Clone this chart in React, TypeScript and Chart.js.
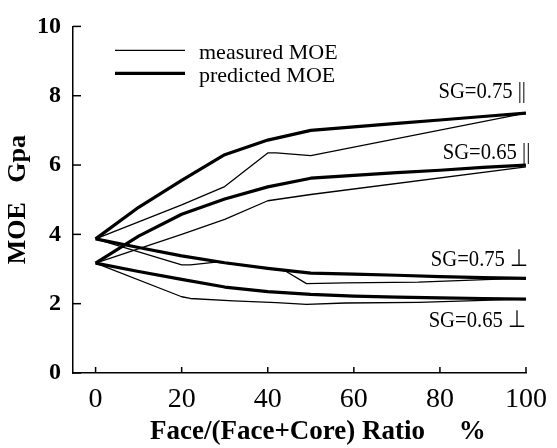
import React, { useEffect, useRef } from "react";
import { Chart, registerables } from "chart.js";

Chart.register(...registerables);

// Face ratio (%) grid used by the predicted curves
const ratioGrid = [0, 10, 20, 30, 40, 50, 60, 70, 80, 90, 100];

// Predicted MOE (GPa)
const predSG75Par = [3.87, 4.78, 5.56, 6.3, 6.72, 7.0, 7.1, 7.2, 7.3, 7.4, 7.5];
const predSG65Par = [3.17, 3.95, 4.58, 5.02, 5.37, 5.62, 5.7, 5.78, 5.85, 5.93, 6.0];
const predSG75Perp = [3.87, 3.62, 3.38, 3.18, 3.02, 2.88, 2.85, 2.82, 2.78, 2.75, 2.73];
const predSG65Perp = [3.17, 2.93, 2.7, 2.48, 2.35, 2.27, 2.22, 2.19, 2.17, 2.15, 2.13];

// Measured MOE (GPa)
const measSG75ParX = [0, 20, 30, 40, 42, 50, 100];
const measSG75ParY = [3.87, 4.85, 5.38, 6.35, 6.35, 6.27, 7.5];
const measSG65ParX = [0, 20, 30, 40, 50, 100];
const measSG65ParY = [3.17, 4.0, 4.43, 4.97, 5.15, 5.95];
const measSG75PerpX = [0, 20, 22, 28, 40, 44, 49, 58, 75, 92, 100];
const measSG75PerpY = [3.87, 3.12, 3.12, 3.2, 3.02, 2.95, 2.58, 2.6, 2.62, 2.7, 2.73];
const measSG65PerpX = [0, 20, 22, 32, 42, 49, 58, 75, 92, 100];
const measSG65PerpY = [3.17, 2.2, 2.15, 2.08, 2.03, 1.98, 2.02, 2.04, 2.1, 2.13];

// Axis ticks
const xTickValues = [0, 20, 40, 60, 80, 100];

// Curve captions, anchored at the right end of the plot (value units)
const curveCaptions = [
  { text: "SG=0.75 ||", x: 100, y: 8.12 },
  { text: "SG=0.65 ||", x: 101, y: 6.35 },
  { text: "SG=0.75 \u22A5", x: 100.5, y: 3.28 },
  { text: "SG=0.65 \u22A5", x: 100, y: 1.51 },
];

const legendItems = [
  { text: "measured MOE", width: 1.3 },
  { text: "predicted MOE", width: 3.2 },
];

const SERIF = "'Liberation Serif', 'Times New Roman', serif";

const pairs = (xs: number[], ys: number[]) => xs.map((x, i) => ({ x, y: ys[i] }));

const thin = (label: string, data: { x: number; y: number }[]) => ({
  label,
  data,
  borderColor: "#000",
  borderWidth: 1.3,
  pointRadius: 0,
  tension: 0,
  fill: false,
  borderJoinStyle: "round" as const,
});
const thick = (label: string, data: { x: number; y: number }[]) => ({
  ...thin(label, data),
  borderWidth: 3.2,
});

const decorations = {
  id: "decorations",
  afterDraw(chart: any) {
    const { ctx, chartArea, scales } = chart;
    const xs = scales.x;
    const ys = scales.y;
    ctx.save();
    ctx.strokeStyle = "#000";
    ctx.fillStyle = "#000";
    ctx.lineWidth = 1.5;

    // inward tick marks
    xs.ticks.forEach((t: any) => {
      const px = xs.getPixelForValue(t.value);
      ctx.beginPath();
      ctx.moveTo(px, chartArea.bottom);
      ctx.lineTo(px, chartArea.bottom - 6);
      ctx.stroke();
    });
    ys.ticks.forEach((t: any) => {
      const py = ys.getPixelForValue(t.value);
      ctx.beginPath();
      ctx.moveTo(chartArea.left, py);
      ctx.lineTo(chartArea.left + 8, py);
      ctx.stroke();
    });

    // legend
    const lx = chartArea.left + 42;
    const ly = chartArea.top + 24;
    legendItems.forEach((item, i) => {
      const y = ly + i * 23;
      ctx.lineWidth = item.width;
      ctx.beginPath();
      ctx.moveTo(lx, y);
      ctx.lineTo(lx + 70, y);
      ctx.stroke();
      ctx.font = `22px ${SERIF}`;
      ctx.textAlign = "left";
      ctx.textBaseline = "alphabetic";
      ctx.fillText(item.text, lx + 84, y + 9);
    });

    // curve captions (slightly condensed lettering)
    ctx.font = `24px ${SERIF}`;
    ctx.textAlign = "right";
    ctx.textBaseline = "middle";
    curveCaptions.forEach((c) => {
      const px = xs.getPixelForValue(c.x);
      const py = ys.getPixelForValue(c.y);
      ctx.save();
      ctx.translate(px, py);
      ctx.scale(0.86, 1);
      ctx.fillText(c.text, 0, 0);
      ctx.restore();
    });

    // axis titles
    ctx.font = `bold 27px ${SERIF}`;
    ctx.textAlign = "left";
    ctx.textBaseline = "middle";
    ctx.fillText("Face/(Face+Core) Ratio     %", 150, chart.height - 16);

    ctx.translate(18, (chartArea.top + chartArea.bottom) / 2);
    ctx.rotate(-Math.PI / 2);
    ctx.textAlign = "center";
    ctx.font = `bold 26px ${SERIF}`;
    ctx.fillText("MOE   Gpa", 0, 0);
    ctx.restore();
  },
};

export default function App() {
  const canvasRef = useRef<HTMLCanvasElement | null>(null);

  useEffect(() => {
    const canvas = canvasRef.current;
    if (!canvas) return;
    const chart = new Chart(canvas, {
      type: "line",
      data: {
        datasets: [
          thin("measured SG=0.75 ||", pairs(measSG75ParX, measSG75ParY)),
          thin("measured SG=0.65 ||", pairs(measSG65ParX, measSG65ParY)),
          thin("measured SG=0.75 \u22A5", pairs(measSG75PerpX, measSG75PerpY)),
          thin("measured SG=0.65 \u22A5", pairs(measSG65PerpX, measSG65PerpY)),
          thick("predicted SG=0.75 ||", pairs(ratioGrid, predSG75Par)),
          thick("predicted SG=0.65 ||", pairs(ratioGrid, predSG65Par)),
          thick("predicted SG=0.75 \u22A5", pairs(ratioGrid, predSG75Perp)),
          thick("predicted SG=0.65 \u22A5", pairs(ratioGrid, predSG65Perp)),
        ],
      },
      options: {
        responsive: false,
        animation: false,
        layout: { padding: { top: 22, right: 23, left: 0, bottom: 0 } },
        plugins: {
          legend: { display: false },
          tooltip: { enabled: false },
        },
        scales: {
          x: {
            type: "linear",
            min: -5.25,
            max: 100,
            afterBuildTicks: (scale: any) => {
              scale.ticks = xTickValues.map((v) => ({ value: v }));
            },
            afterFit: (scale: any) => {
              scale.height = 75;
            },
            grid: { display: false, drawTicks: false },
            border: { display: true, color: "#000", width: 1.5 },
            ticks: {
              color: "#000",
              padding: 10,
              maxRotation: 0,
              font: { family: SERIF, size: 28 },
            },
          },
          y: {
            type: "linear",
            min: 0,
            max: 10,
            afterFit: (scale: any) => {
              scale.width = 73;
            },
            grid: { display: false, drawTicks: false },
            border: { display: true, color: "#000", width: 1.5 },
            ticks: {
              stepSize: 2,
              color: "#000",
              padding: 12,
              font: { family: SERIF, size: 24, weight: "bold" },
            },
          },
        },
      },
      plugins: [decorations],
    });
    return () => chart.destroy();
  }, []);

  return (
    <div style={{ position: "fixed", left: 0, top: 0, width: 557, height: 448, background: "#fff" }}>
      <canvas ref={canvasRef} width={557} height={448} />
    </div>
  );
}
